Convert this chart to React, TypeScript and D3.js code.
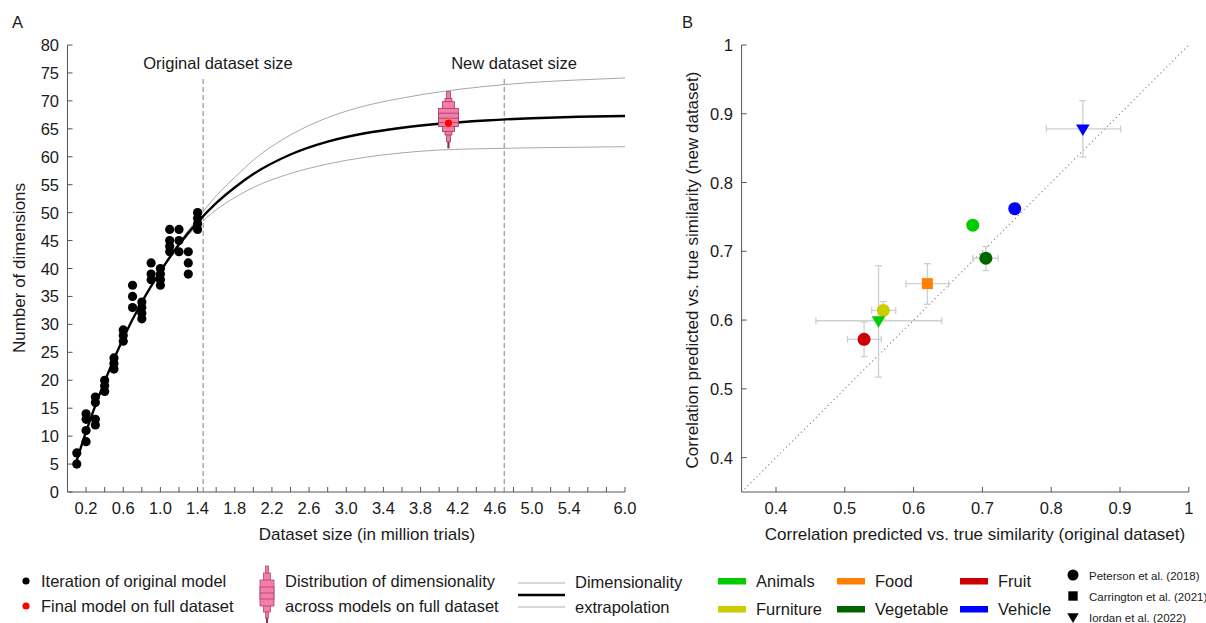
import React from 'react';
import * as d3 from 'd3';

const FONT = "'Liberation Sans', Arial, Helvetica, sans-serif";
const TEXT = '#1a1a1a';
const AXIS = '#555555';
const FS = 16.5;
const FS_TITLE = 17;

// ---------------- Panel A data ----------------
const iterSizes = [0.1, 0.2, 0.3, 0.4, 0.5, 0.6, 0.7, 0.8, 0.9, 1.0, 1.1, 1.2, 1.3, 1.4];
const iterDims = [
  [7, 5],
  [14, 13, 11, 9],
  [17, 16, 13, 12],
  [20, 19, 18],
  [24, 23, 22],
  [29, 28, 27],
  [37, 35, 33],
  [34, 33, 32, 31],
  [41, 39, 38],
  [40, 39, 38, 37],
  [47, 45, 44, 43],
  [47, 45, 43],
  [43, 41, 39],
  [50, 49, 48, 47],
];
const curveSizes = [0.1, 0.2, 0.3, 0.4, 0.6, 0.8, 1.0, 1.2, 1.4, 1.6, 1.8, 2.0, 2.4, 2.8, 3.2, 3.6, 4.0, 4.5, 5.0, 5.5, 6.0];
const curveMid = [5.7, 10.8, 15.5, 19.8, 27.5, 34.0, 39.5, 44.3, 48.3, 51.7, 54.5, 56.9, 60.4, 62.7, 64.2, 65.2, 65.9, 66.5, 66.9, 67.15, 67.3];
const curveUpper = [5.7, 10.8, 15.5, 19.8, 27.5, 34.0, 39.6, 44.6, 48.9, 53.0, 56.3, 59.4, 63.9, 67.0, 69.1, 70.5, 71.6, 72.6, 73.3, 73.75, 74.1];
const curveLower = [5.7, 10.8, 15.5, 19.8, 27.5, 34.0, 39.4, 44.1, 47.6, 50.5, 52.7, 54.5, 57.0, 58.7, 59.9, 60.7, 61.2, 61.45, 61.6, 61.7, 61.8];

const originalSize = 1.46;
const newSize = 4.7;
const boxenSize = 4.1;
const boxenLow = [62.7, 63.9, 64.5, 65.4, 66.1];
const boxenHigh = [71.65, 70.46, 69.86, 68.66, 67.8];
const boxenMedian = 66.9;
const boxenTail = [61.5, 62.7];
const finalModelDim = 66.0;

const xTicksA = d3.range(1, 31).map((i) => +(i * 0.2).toFixed(1));
const xTickLabelsA = ['0.2', '0.6', '1.0', '1.4', '1.8', '2.2', '2.6', '3.0', '3.4', '3.8', '4.2', '4.6', '5.0', '5.4', '6.0'];
const yTicksA = d3.range(0, 81, 5);

// ---------------- Panel B data ----------------
const categories = ['Animals', 'Food', 'Fruit', 'Furniture', 'Vegetable', 'Vehicle'];
const categoryColors = ['#00cc00', '#ff8000', '#cc0000', '#cccc00', '#006600', '#0000ff'];
const studies = ['Peterson et al. (2018)', 'Carrington et al. (2021)', 'Iordan et al. (2022)'];
const studyShapes = ['circle', 'square', 'triangle'];

const ptCategory = ['Vehicle', 'Vehicle', 'Animals', 'Vegetable', 'Food', 'Furniture', 'Animals', 'Fruit'];
const ptStudy = [2, 0, 0, 0, 1, 0, 2, 0];
const ptOrig = [0.846, 0.747, 0.686, 0.705, 0.620, 0.556, 0.549, 0.528];
const ptNew = [0.878, 0.762, 0.738, 0.690, 0.653, 0.614, 0.599, 0.572];
const ptOrigLo = [0.793, 0.741, 0.680, 0.686, 0.589, 0.539, 0.458, 0.504];
const ptOrigHi = [0.901, 0.753, 0.692, 0.723, 0.651, 0.574, 0.641, 0.553];
const ptNewLo = [0.837, 0.757, 0.733, 0.672, 0.623, 0.600, 0.517, 0.547];
const ptNewHi = [0.919, 0.767, 0.743, 0.707, 0.682, 0.627, 0.679, 0.597];

const ticksB = [0.4, 0.5, 0.6, 0.7, 0.8, 0.9, 1];

const PINK = '#f67ca9';
const PINK_STROKE = '#9c3d63';

function Marker({ shape, x, y, color, size = 1 }: { shape: string; x: number; y: number; color: string; size?: number }) {
  if (shape === 'circle') return <circle cx={x} cy={y} r={6.5 * size} fill={color} />;
  if (shape === 'square') {
    const s = 11 * size;
    return <rect x={x - s / 2} y={y - s / 2} width={s} height={s} fill={color} />;
  }
  const w = 6.8 * size;
  return <path d={`M${x - w},${y - 4.5 * size}L${x + w},${y - 4.5 * size}L${x},${y + 7 * size}Z`} fill={color} />;
}

export default function App() {
  // scales panel A
  const xA = d3.scaleLinear().domain([0, 6]).range([67.5, 625]);
  const yA = d3.scaleLinear().domain([0, 80]).range([492, 45]);
  // scales panel B
  const xB = d3.scaleLinear().domain([0.35, 1]).range([741.6, 1188.8]);
  const yB = d3.scaleLinear().domain([0.35, 1]).range([492, 45]);

  const lineA = (vals: number[]) =>
    d3
      .line<number>()
      .x((_, i) => xA(curveSizes[i]))
      .y((d) => yA(d))
      .curve(d3.curveMonotoneX)(vals) || '';

  const boxenWidths = [4, 7, 12, 20, 20];
  const bx = xA(boxenSize);

  const fontBase = { fontFamily: FONT, fill: TEXT } as const;

  return (
    <svg width={1206} height={623} style={{ position: 'absolute', left: 0, top: 0, background: '#fff' }}>
      {/* Panel labels */}
      <text x={12} y={28} fontSize={FS} {...fontBase}>A</text>
      <text x={682} y={28} fontSize={FS} {...fontBase}>B</text>

      {/* ================= Panel A ================= */}
      <line x1={xA(0)} x2={xA(0)} y1={yA(80)} y2={yA(0)} stroke={AXIS} strokeWidth={1} />
      <line x1={xA(0)} x2={xA(6)} y1={yA(0)} y2={yA(0)} stroke={AXIS} strokeWidth={1} />
      {yTicksA.map((t) => (
        <g key={'ya' + t}>
          <line x1={xA(0)} x2={xA(0) + 5} y1={yA(t)} y2={yA(t)} stroke={AXIS} />
          <text x={59} y={yA(t)} fontSize={FS} textAnchor="end" dominantBaseline="central" {...fontBase}>
            {t}
          </text>
        </g>
      ))}
      {xTicksA.map((t) => (
        <line key={'xa' + t} x1={xA(t)} x2={xA(t)} y1={yA(0)} y2={yA(0) - 5} stroke={AXIS} />
      ))}
      {xTickLabelsA.map((l) => (
        <text key={'xl' + l} x={xA(+l)} y={508} fontSize={FS} textAnchor="middle" dominantBaseline="central" {...fontBase}>
          {l}
        </text>
      ))}
      <text x={367} y={534} fontSize={FS_TITLE} textAnchor="middle" dominantBaseline="central" {...fontBase}>
        Dataset size (in million trials)
      </text>
      <text
        transform={`translate(19,268) rotate(-90)`}
        fontSize={FS_TITLE}
        textAnchor="middle"
        dominantBaseline="central"
        {...fontBase}
      >
        Number of dimensions
      </text>

      {/* dataset size markers */}
      <line x1={xA(originalSize)} x2={xA(originalSize)} y1={79} y2={yA(0)} stroke="#808080" strokeDasharray="5,3" />
      <line x1={xA(newSize)} x2={xA(newSize)} y1={79} y2={yA(0)} stroke="#808080" strokeDasharray="5,3" />
      <text x={218} y={63} fontSize={FS} textAnchor="middle" dominantBaseline="central" {...fontBase}>
        Original dataset size
      </text>
      <text x={514} y={63} fontSize={FS} textAnchor="middle" dominantBaseline="central" {...fontBase}>
        New dataset size
      </text>

      {/* extrapolation curves */}
      <path d={lineA(curveUpper)} fill="none" stroke="#a8a8a8" strokeWidth={1} />
      <path d={lineA(curveLower)} fill="none" stroke="#a8a8a8" strokeWidth={1} />
      <path d={lineA(curveMid)} fill="none" stroke="#000" strokeWidth={2.4} />

      {/* iterations */}
      {iterSizes.map((s, i) =>
        iterDims[i].map((d, j) => <circle key={`p${i}-${j}`} cx={xA(s)} cy={yA(d)} r={4.6} fill="#000" />)
      )}

      {/* boxen plot */}
      <line x1={bx} x2={bx} y1={yA(boxenTail[0])} y2={yA(boxenTail[1])} stroke="#8a2f52" strokeWidth={2.2} />
      {boxenLow.map((lo, i) => (
        <rect
          key={'bx' + i}
          x={bx - boxenWidths[i] / 2}
          y={yA(boxenHigh[i])}
          width={boxenWidths[i]}
          height={yA(lo) - yA(boxenHigh[i])}
          fill={PINK}
          stroke={PINK_STROKE}
          strokeWidth={0.8}
        />
      ))}
      <line x1={bx - 10} x2={bx + 10} y1={yA(boxenMedian)} y2={yA(boxenMedian)} stroke={PINK_STROKE} strokeWidth={0.8} />
      <circle cx={bx} cy={yA(finalModelDim)} r={4.2} fill="#ff0000" stroke="#ff9a9a" strokeWidth={0.8} />

      {/* ================= Panel B ================= */}
      <line x1={xB(0.35)} x2={xB(0.35)} y1={yB(1)} y2={yB(0.35)} stroke={AXIS} />
      <line x1={xB(0.35)} x2={xB(1)} y1={yB(0.35)} y2={yB(0.35)} stroke={AXIS} />
      {ticksB.map((t) => (
        <g key={'tb' + t}>
          <line x1={xB(t)} x2={xB(t)} y1={yB(0.35)} y2={yB(0.35) - 5} stroke={AXIS} />
          <line x1={xB(0.35)} x2={xB(0.35) + 5} y1={yB(t)} y2={yB(t)} stroke={AXIS} />
          <text x={xB(t)} y={508} fontSize={FS} textAnchor="middle" dominantBaseline="central" {...fontBase}>
            {t === 1 ? '1' : t.toFixed(1)}
          </text>
          <text x={733} y={yB(t)} fontSize={FS} textAnchor="end" dominantBaseline="central" {...fontBase}>
            {t === 1 ? '1' : t.toFixed(1)}
          </text>
        </g>
      ))}
      <line
        x1={xB(0.35)}
        y1={yB(0.35)}
        x2={xB(1)}
        y2={yB(1)}
        stroke="#8c8c8c"
        strokeWidth={1.2}
        strokeDasharray="1.2,3"
      />
      <text x={975} y={534} fontSize={FS_TITLE} textAnchor="middle" dominantBaseline="central" {...fontBase}>
        Correlation predicted vs. true similarity (original dataset)
      </text>
      <text
        transform={`translate(692,270) rotate(-90)`}
        fontSize={FS_TITLE}
        textAnchor="middle"
        dominantBaseline="central"
        {...fontBase}
      >
        Correlation predicted vs. true similarity (new dataset)
      </text>

      {/* error bars */}
      {ptOrig.map((o, i) => {
        const cx = xB(o);
        const cy = yB(ptNew[i]);
        const cap = 3.5;
        const st = { stroke: '#cfcfcf', strokeWidth: 1.3 };
        return (
          <g key={'eb' + i}>
            <line x1={xB(ptOrigLo[i])} x2={xB(ptOrigHi[i])} y1={cy} y2={cy} {...st} />
            <line x1={xB(ptOrigLo[i])} x2={xB(ptOrigLo[i])} y1={cy - cap} y2={cy + cap} {...st} />
            <line x1={xB(ptOrigHi[i])} x2={xB(ptOrigHi[i])} y1={cy - cap} y2={cy + cap} {...st} />
            <line x1={cx} x2={cx} y1={yB(ptNewLo[i])} y2={yB(ptNewHi[i])} {...st} />
            <line x1={cx - cap} x2={cx + cap} y1={yB(ptNewLo[i])} y2={yB(ptNewLo[i])} {...st} />
            <line x1={cx - cap} x2={cx + cap} y1={yB(ptNewHi[i])} y2={yB(ptNewHi[i])} {...st} />
          </g>
        );
      })}
      {ptOrig.map((o, i) => (
        <Marker
          key={'mk' + i}
          shape={studyShapes[ptStudy[i]]}
          x={xB(o)}
          y={yB(ptNew[i])}
          color={categoryColors[categories.indexOf(ptCategory[i])]}
        />
      ))}

      {/* ================= Legends ================= */}
      <circle cx={26} cy={581} r={3.6} fill="#000" />
      <text x={41} y={581} fontSize={FS} dominantBaseline="central" {...fontBase}>Iteration of original model</text>
      <circle cx={26} cy={606} r={3.6} fill="#ff0000" />
      <text x={41} y={606} fontSize={FS} dominantBaseline="central" {...fontBase}>Final model on full dataset</text>

      <line x1={267} x2={267} y1={617} y2={623} stroke="#8a2f52" strokeWidth={2} />
      <rect x={265.5} y={566} width={3} height={52} fill={PINK} stroke={PINK_STROKE} strokeWidth={0.7} />
      <rect x={263.5} y={573} width={7} height={39} fill={PINK} stroke={PINK_STROKE} strokeWidth={0.7} />
      <rect x={260} y={580} width={14} height={26} fill={PINK} stroke={PINK_STROKE} strokeWidth={0.7} />
      <rect x={260} y={587} width={14} height={12} fill={PINK} stroke={PINK_STROKE} strokeWidth={0.7} />
      <line x1={260} x2={274} y1={593} y2={593} stroke={PINK_STROKE} strokeWidth={0.7} />
      <text x={285} y={581} fontSize={FS} dominantBaseline="central" {...fontBase}>Distribution of dimensionality</text>
      <text x={285} y={606} fontSize={FS} dominantBaseline="central" {...fontBase}>across models on full dataset</text>

      <line x1={518} x2={565} y1={583} y2={583} stroke="#b0b0b0" strokeWidth={1} />
      <line x1={518} x2={565} y1={595} y2={595} stroke="#000" strokeWidth={2.4} />
      <line x1={518} x2={565} y1={607} y2={607} stroke="#b0b0b0" strokeWidth={1} />
      <text x={575} y={582} fontSize={FS} dominantBaseline="central" {...fontBase}>Dimensionality</text>
      <text x={575} y={607} fontSize={FS} dominantBaseline="central" {...fontBase}>extrapolation</text>

      {categories.map((c, i) => {
        const col = i % 3;
        const row = i < 3 ? 0 : 1;
        const x0 = [718, 837, 960][col];
        const y0 = row === 0 ? 581 : 609;
        return (
          <g key={'lc' + c}>
            <rect x={x0} y={y0 - 3} width={28} height={6.5} fill={categoryColors[i]} />
            <text x={x0 + 38} y={y0} fontSize={FS} dominantBaseline="central" {...fontBase}>
              {c}
            </text>
          </g>
        );
      })}

      {studies.map((s, i) => {
        const y0 = 575 + i * 21;
        return (
          <g key={'ls' + i}>
            <Marker shape={studyShapes[i]} x={1073} y={y0} color="#000" size={0.85} />
            <text x={1089} y={y0 + 1} fontSize={11.5} dominantBaseline="central" {...fontBase}>
              {s}
            </text>
          </g>
        );
      })}
    </svg>
  );
}
